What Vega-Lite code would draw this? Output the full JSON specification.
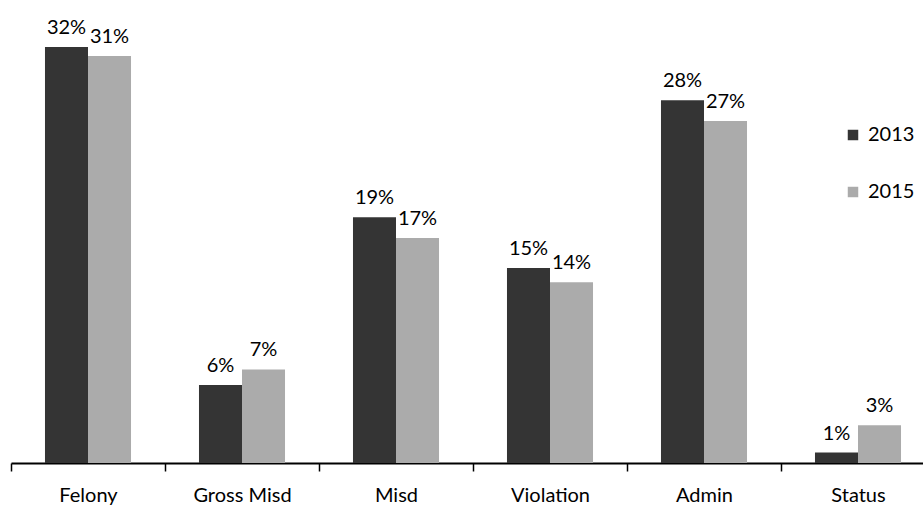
{
  "$schema": "https://vega.github.io/schema/vega-lite/v6.json",
  "width": 924,
  "height": 455,
  "autosize": {"type": "none"},
  "padding": {"left": 11, "top": 8, "right": 0, "bottom": 48},
  "background": "white",
  "config": {"view": {"stroke": null}, "font": "Lato"},
  "data": {
    "values": [
      {"category": "Felony", "year": "2013", "pct": 32.0, "label": "32%"},
      {"category": "Felony", "year": "2015", "pct": 31.3, "label": "31%"},
      {"category": "Gross Misd", "year": "2013", "pct": 6.0, "label": "6%"},
      {"category": "Gross Misd", "year": "2015", "pct": 7.2, "label": "7%"},
      {"category": "Misd", "year": "2013", "pct": 18.9, "label": "19%"},
      {"category": "Misd", "year": "2015", "pct": 17.3, "label": "17%"},
      {"category": "Violation", "year": "2013", "pct": 15.0, "label": "15%"},
      {"category": "Violation", "year": "2015", "pct": 13.9, "label": "14%"},
      {"category": "Admin", "year": "2013", "pct": 27.9, "label": "28%"},
      {"category": "Admin", "year": "2015", "pct": 26.3, "label": "27%"},
      {"category": "Status", "year": "2013", "pct": 0.8, "label": "1%"},
      {"category": "Status", "year": "2015", "pct": 2.9, "label": "3%"}
    ]
  },
  "encoding": {
    "x": {
      "field": "category",
      "type": "nominal",
      "sort": null,
      "scale": {"paddingInner": 0, "paddingOuter": 0},
      "axis": {
        "title": null,
        "labelAngle": 0,
        "labelFontSize": 20,
        "labelColor": "black",
        "labelPadding": 14,
        "domainColor": "black",
        "domainWidth": 2,
        "tickColor": "black",
        "tickWidth": 1.5,
        "tickSize": 8,
        "tickBand": "extent"
      }
    },
    "xOffset": {
      "field": "year",
      "type": "nominal",
      "scale": {"paddingInner": 0, "paddingOuter": 0.79}
    },
    "y": {
      "field": "pct",
      "type": "quantitative",
      "scale": {"domain": [0, 35], "nice": false},
      "axis": null
    }
  },
  "layer": [
    {
      "mark": {"type": "bar"},
      "encoding": {
        "color": {
          "field": "year",
          "type": "nominal",
          "scale": {"domain": ["2013", "2015"], "range": ["#343434", "#ababab"]},
          "legend": {
            "title": null,
            "orient": "none",
            "legendX": 832,
            "legendY": 117,
            "symbolType": "square",
            "symbolSize": 110,
            "symbolStrokeWidth": 0,
            "labelFontSize": 20,
            "labelColor": "black",
            "rowPadding": 37,
            "labelOffset": 5
          }
        }
      }
    },
    {
      "mark": {"type": "text", "baseline": "bottom", "dy": -9, "fontSize": 20, "color": "black"},
      "encoding": {"text": {"field": "label"}}
    }
  ]
}
